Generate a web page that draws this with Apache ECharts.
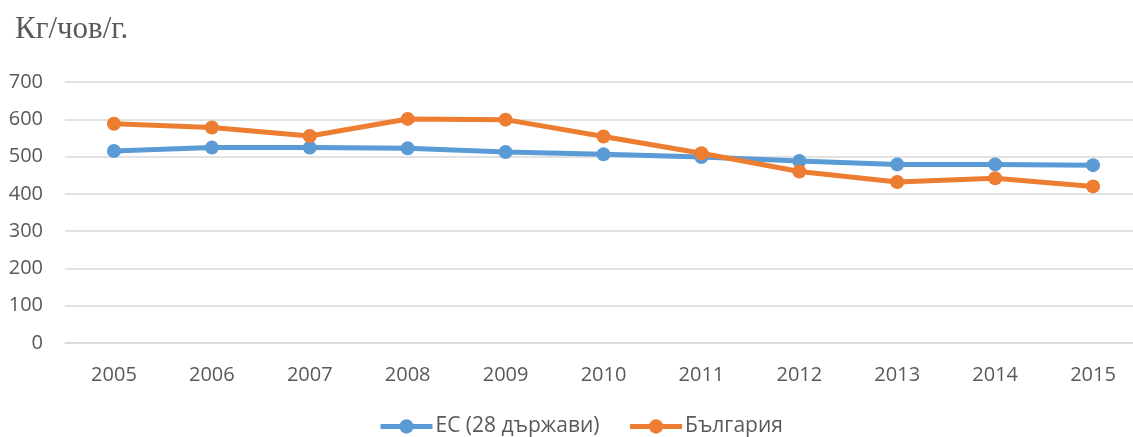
<!DOCTYPE html>
<html><head><meta charset="utf-8">
<script src="https://cdn.jsdelivr.net/npm/echarts@6/dist/echarts.min.js"></script>
<style>html,body{margin:0;padding:0;background:#fff;overflow:hidden}#c{width:1143px;height:437px}</style>
</head><body><div id="c"></div>
<script>
const years = ['2005','2006','2007','2008','2009','2010','2011','2012','2013','2014','2015'];
const euValues = [515, 524, 524, 522, 512, 506, 499, 488, 479, 479, 477];
const bgValues = [588, 578, 555, 601, 599, 554, 509, 460, 432, 442, 420];
const seriesNames = ['ЕС (28 държави)', 'България'];
const unitTitle = 'Кг/чов/г.';

const chart = echarts.init(document.getElementById('c'));
const mk = (name, data, color) => ({
  name, type: 'line', data,
  symbol: 'circle', symbolSize: 14,
  lineStyle: {width: 5, color}, itemStyle: {color},
  emphasis: {disabled: true}, z: name === seriesNames[1] ? 3 : 2
});
chart.setOption({
  animation: false,
  title: {text: unitTitle, left: 10, top: 9,
    textStyle: {fontFamily: 'Liberation Serif', fontSize: 31, fontWeight: 'normal', color: '#595959'}},
  legend: {top: 416, left: 378, padding: 0, itemWidth: 52, itemHeight: 18, itemGap: 28,
    lineStyle: {width: 5},
    textStyle: {fontFamily: 'Open Sans', fontSize: 21, color: '#595959', padding: [0,0,0,-2]},
    data: seriesNames},
  grid: {left: 65, right: 1, top: 82, bottom: 94, containLabel: false},
  xAxis: {type: 'category', data: years, boundaryGap: true,
    axisLine: {lineStyle: {color: '#D9D9D9', width: 1.5}}, axisTick: {show: false},
    axisLabel: {fontFamily: 'Open Sans', fontSize: 20, color: '#595959', margin: 22}},
  yAxis: {type: 'value', min: 0, max: 700, interval: 100,
    axisLine: {show: false}, axisTick: {show: false},
    splitLine: {lineStyle: {color: '#D9D9D9', width: 1.5}},
    axisLabel: {fontFamily: 'Open Sans', fontSize: 20, color: '#595959', margin: 22}},
  series: [mk(seriesNames[0], euValues, '#5B9BD5'), mk(seriesNames[1], bgValues, '#ED7D31')]
});
</script></body></html>
